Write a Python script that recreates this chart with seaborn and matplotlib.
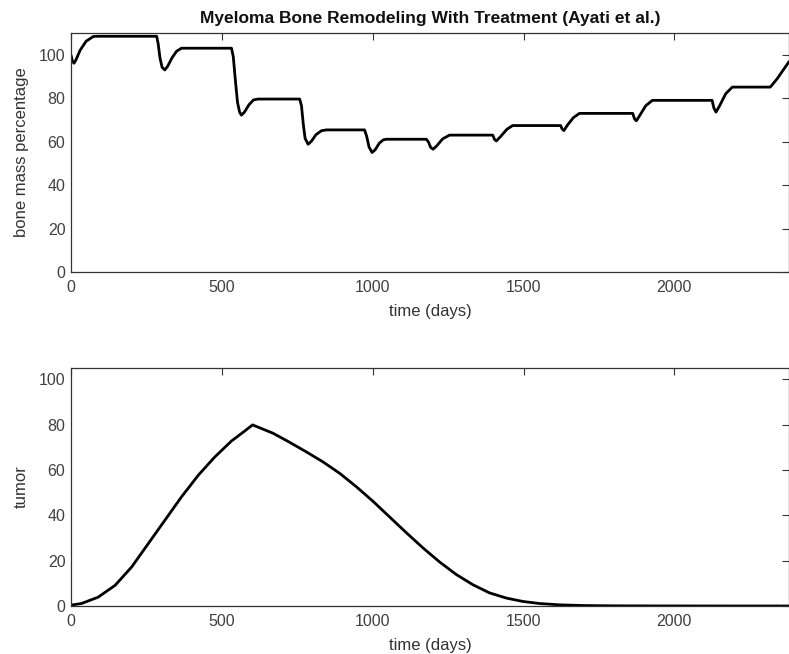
import matplotlib
matplotlib.use("Agg")
import matplotlib.pyplot as plt
import seaborn as sns
import pandas as pd

# ---- data ----
bone_t = [0, 5, 10, 16, 30, 50, 74, 90, 150, 284, 289, 295, 302, 311, 320, 335, 350, 366, 450, 532,
          538, 545, 552, 559, 565, 575, 590, 605, 620, 700, 758, 764, 770, 776, 786, 797, 812, 830, 846,
          900, 973, 980, 988, 998, 1008, 1022, 1035, 1045, 1120, 1178, 1185, 1192, 1200, 1212, 1232,
          1255, 1330, 1398, 1404, 1410, 1425, 1445, 1464, 1550, 1623, 1628, 1634, 1645, 1665, 1685,
          1780, 1862, 1868, 1874, 1885, 1905, 1927, 2030, 2125, 2131, 2138, 2150, 2170, 2192, 2260,
          2318, 2340, 2360, 2380]
bone_v = [99.8, 97.0, 96.1, 97.5, 102.0, 106.2, 108.4, 108.5, 108.5, 108.5, 105.0, 98.5, 94.2, 93.0,
          94.6, 98.6, 101.6, 103.0, 103.0, 103.0, 99.0, 88.0, 78.0, 73.5, 72.2, 73.6, 77.0, 79.2, 79.6,
          79.6, 79.6, 76.5, 68.0, 61.5, 58.8, 60.2, 63.2, 65.0, 65.4, 65.4, 65.4, 62.5, 57.5, 55.0,
          56.2, 59.3, 60.8, 61.1, 61.1, 61.1, 59.8, 57.4, 56.5, 58.0, 61.3, 63.0, 63.0, 63.0, 61.0,
          60.3, 62.5, 65.7, 67.4, 67.4, 67.4, 65.8, 65.1, 67.5, 71.0, 73.0, 73.0, 73.0, 70.5, 69.6,
          72.0, 76.5, 79.0, 79.0, 79.0, 75.5, 73.6, 76.5, 82.0, 85.1, 85.1, 85.1, 88.8, 92.8, 96.8]

tumor_t = [0, 35, 90, 146, 201, 256, 311, 366, 422, 477, 532, 570, 602, 670, 725, 780, 835, 891,
           946, 1001, 1056, 1111, 1167, 1222, 1277, 1332, 1387, 1443, 1498, 1553, 1620, 1700, 1800,
           1950, 2150, 2380]
tumor_v = [0.4, 1.1, 3.9, 9.1, 17.2, 27.5, 37.8, 48.1, 57.7, 65.8, 72.8, 76.6, 79.9, 76.2, 72.2,
           68.0, 63.6, 58.5, 52.6, 46.2, 39.3, 32.4, 25.6, 19.4, 13.9, 9.4, 5.8, 3.5, 2.0, 1.1, 0.5,
           0.2, 0.08, 0.03, 0.01, 0.0]

title = "Myeloma Bone Remodeling With Treatment (Ayati et al.)"
x_label = "time (days)"
y_label_top = "bone mass percentage"
y_label_bottom = "tumor"
x_ticks = [0, 500, 1000, 1500, 2000]
y_ticks = [0, 20, 40, 60, 80, 100]

sns.set_theme(style="white")
plt.rcParams["font.family"] = ["Liberation Sans", "DejaVu Sans"]

W, H = 789, 654
fig = plt.figure(figsize=(W / 100, H / 100), dpi=100)
ax1 = fig.add_axes([71 / W, (H - 272) / H, (W - 71) / W, 239 / H])
ax2 = fig.add_axes([71 / W, (H - 606) / H, (W - 71) / W, 238 / H])

df_bone = pd.DataFrame({"t": bone_t, "v": bone_v})
df_tumor = pd.DataFrame({"t": tumor_t, "v": tumor_v})

sns.lineplot(data=df_bone, x="t", y="v", ax=ax1, color="black", linewidth=2.0)
sns.lineplot(data=df_tumor, x="t", y="v", ax=ax2, color="black", linewidth=2.0)

tick_col = "#404040"
for ax, ylab, ytop in [(ax1, y_label_top, 110), (ax2, y_label_bottom, 105)]:
    ax.set_xlim(0, 2380)
    ax.set_ylim(0, ytop)
    ax.set_xticks(x_ticks)
    ax.set_yticks(y_ticks)
    ax.tick_params(direction="in", length=5, width=0.8, top=True, right=True,
                   labelsize=11.5, colors="#333333", labelcolor=tick_col, pad=4)
    ax.tick_params(axis="x", pad=6)
    ax.set_xlabel(x_label, fontsize=12, color="#333333", labelpad=6)
    ax.set_ylabel(ylab, fontsize=12, color="#333333", labelpad=7)
    for s in ax.spines.values():
        s.set_color("#333333")
        s.set_linewidth(0.9)
    ax.grid(False)

ax1.set_title(title, fontsize=12.5, fontweight="bold", color="#111111", pad=7)

fig.savefig("out.png", dpi=100)
